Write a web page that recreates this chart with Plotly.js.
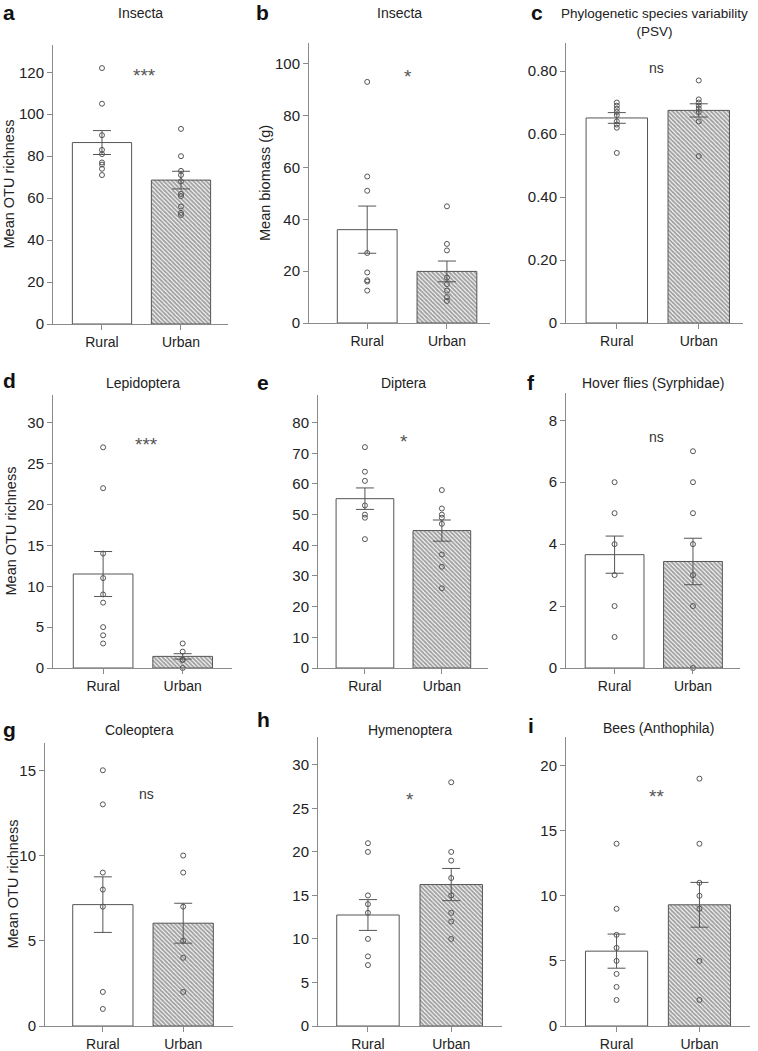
<!DOCTYPE html>
<html>
<head>
<meta charset="utf-8">
<script src="https://cdn.plot.ly/plotly-3.0.1.min.js"></script>
<style>body{margin:0;background:#fff;}</style>
</head>
<body>
<div id="chart" style="width:758px;height:1051px"></div>
<script>
var groups = ['Rural', 'Urban'];

var panelLetters = ['a', 'b', 'c', 'd', 'e', 'f', 'g', 'h', 'i'];
var panelTitles = ['Insecta', 'Insecta', 'Phylogenetic species variability<br>(PSV)', 'Lepidoptera',
    'Diptera', 'Hover flies (Syrphidae)', 'Coleoptera', 'Hymenoptera', 'Bees (Anthophila)'];
var yTitles = ['Mean OTU richness', 'Mean biomass (g)', '', 'Mean OTU richness', '', '', 'Mean OTU richness', '', ''];
var sigLabels = ['***', '*', 'ns', '***', '*', 'ns', 'ns', '*', '**'];
var psvTickVals = [0, 0.2, 0.4, 0.6, 0.8];
var psvTickText = ['0', '0.20', '0.40', '0.60', '0.80'];

// means and standard errors [Rural, Urban]
var insectaRichMean = [86.5, 68.6], insectaRichSE = [5.7, 4.2];
var biomassMean = [36.0, 19.9], biomassSE = [9.1, 4.0];
var psvMean = [0.651, 0.675], psvSE = [0.017, 0.021];
var lepiMean = [11.5, 1.42], lepiSE = [2.75, 0.33];
var dipMean = [55.2, 44.8], dipSE = [3.5, 3.45];
var hoverMean = [3.66, 3.44], hoverSE = [0.6, 0.75];
var coleoMean = [7.12, 6.03], coleoSE = [1.63, 1.17];
var hymMean = [12.75, 16.25], hymSE = [1.77, 1.85];
var beesMean = [5.75, 9.31], beesSE = [1.31, 1.72];

// individual sites
var insectaRichRural = [122, 105, 90, 83, 81, 77, 76, 74, 71];
var insectaRichUrban = [93, 80, 73, 71, 68, 62, 61, 56, 53, 52];
var biomassRural = [93, 56.5, 51, 27, 19.5, 16.5, 16, 12.5];
var biomassUrban = [45, 30.5, 28, 17.5, 15, 12.5, 10, 8.5];
var psvRural = [0.70, 0.69, 0.68, 0.67, 0.66, 0.64, 0.63, 0.62, 0.54];
var psvUrban = [0.77, 0.71, 0.70, 0.69, 0.68, 0.67, 0.64, 0.53];
var lepiRural = [27, 22, 14, 11, 9, 8, 5, 4, 3];
var lepiUrban = [3, 2, 1, 1, 0];
var dipRural = [72, 64, 61, 53, 50, 49, 42];
var dipUrban = [58, 52, 50, 49, 47, 37, 33, 26];
var hoverRural = [6, 5, 4, 3, 2, 1];
var hoverUrban = [7, 6, 5, 4, 3, 2, 0];
var coleoRural = [15, 13, 9, 8, 7, 2, 1];
var coleoUrban = [10, 9, 7, 5, 4, 2];
var hymRural = [21, 20, 15, 14, 13, 10, 8, 7];
var hymUrban = [28, 20, 19, 17, 15, 13, 12, 10];
var beesRural = [14, 9, 7, 6, 5, 4, 3, 2];
var beesUrban = [19, 14, 11, 10, 9, 5, 2];

var panels = [
    {mean: insectaRichMean, se: insectaRichSE, rural: insectaRichRural, urban: insectaRichUrban},
    {mean: biomassMean, se: biomassSE, rural: biomassRural, urban: biomassUrban},
    {mean: psvMean, se: psvSE, rural: psvRural, urban: psvUrban},
    {mean: lepiMean, se: lepiSE, rural: lepiRural, urban: lepiUrban},
    {mean: dipMean, se: dipSE, rural: dipRural, urban: dipUrban},
    {mean: hoverMean, se: hoverSE, rural: hoverRural, urban: hoverUrban},
    {mean: coleoMean, se: coleoSE, rural: coleoRural, urban: coleoUrban},
    {mean: hymMean, se: hymSE, rural: hymRural, urban: hymUrban},
    {mean: beesMean, se: beesSE, rural: beesRural, urban: beesUrban}
];

// panel boxes in pixels + axis setup
var geo = [
    {l: 53, t: 45, r: 228, b: 324, ymax: 133, dtick: 20, xr: [-0.62, 1.595], sig: [0.54, 118.5], titleY: 13, letter: [9, 13], ytx: 9},
    {l: 309, t: 43, r: 490, b: 323, ymax: 108, dtick: 20, xr: [-0.73, 1.54], sig: [0.51, 95], titleY: 13, letter: [262, 13], ytx: 265},
    {l: 566, t: 43, r: 743, b: 323, ymax: 0.889, dtick: 0.2, xr: [-0.62, 1.54], sig: [0.49, 0.81], titleY: 23, letter: [537, 13]},
    {l: 53, t: 395, r: 232, b: 668, ymax: 33.4, dtick: 5, xr: [-0.63, 1.62], sig: [0.55, 27.4], titleY: 383, letter: [9, 381], ytx: 10},
    {l: 318, t: 395, r: 488, b: 668, ymax: 89, dtick: 10, xr: [-0.61, 1.60], sig: [0.51, 74], titleY: 383, letter: [263, 382]},
    {l: 566, t: 393, r: 740, b: 668, ymax: 8.88, dtick: 2, xr: [-0.62, 1.60], sig: [0.53, 7.45], titleY: 383, letter: [531, 382]},
    {l: 45, t: 743, r: 233, b: 1026, ymax: 16.6, dtick: 5, xr: [-0.72, 1.62], sig: [0.54, 13.6], titleY: 730, letter: [9, 729], ytx: 12},
    {l: 318, t: 737, r: 502, b: 1026, ymax: 33.2, dtick: 5, xr: [-0.60, 1.61], sig: [0.50, 26.0], titleY: 730, letter: [263, 719]},
    {l: 566, t: 737, r: 750, b: 1026, ymax: 22.2, dtick: 5, xr: [-0.61, 1.61], sig: [0.48, 17.6], titleY: 728, letter: [531, 725]}
];

var W = 758, H = 1051;
function px(x) { return x / W; }
function py(y) { return 1 - y / H; }

var FONT = 'Liberation Sans, Arial, Helvetica, sans-serif';
var AXIS_COL = '#8a8a8a';
var INK = '#555555';

var allData = [];
var layout = {
    width: W,
    height: H,
    margin: {l: 0, r: 0, t: 0, b: 0},
    paper_bgcolor: '#fff',
    plot_bgcolor: 'rgba(0,0,0,0)',
    showlegend: false,
    font: {family: FONT, color: '#222', size: 14},
    annotations: []
};

panels.forEach(function (p, i) {
    var k = i + 1;
    var sfx = k === 1 ? '' : String(k);
    var g = geo[i];

    //bars with error bars
    allData.push({
        type: 'bar',
        x: groups,
        y: p.mean,
        width: 0.75,
        xaxis: 'x' + sfx,
        yaxis: 'y' + sfx,
        marker: {
            color: ['#ffffff', '#ffffff'],
            line: {color: INK, width: 1},
            pattern: {shape: ['', '\\'], size: 3, solidity: 0.65, fgcolor: '#3c3c3c', bgcolor: '#fff', fillmode: 'overlay'}
        },
        error_y: {type: 'data', array: p.se, visible: true, color: INK, thickness: 1, width: 9},
        hoverinfo: 'none'
    });

    //site points
    var xs = [], ys = [];
    p.rural.forEach(function (v) { xs.push(groups[0]); ys.push(v); });
    p.urban.forEach(function (v) { xs.push(groups[1]); ys.push(v); });
    allData.push({
        type: 'scatter',
        mode: 'markers',
        x: xs,
        y: ys,
        xaxis: 'x' + sfx,
        yaxis: 'y' + sfx,
        marker: {symbol: 'circle-open', size: 5, color: '#555', line: {width: 1, color: '#555'}},
        cliponaxis: false,
        hoverinfo: 'none'
    });

    layout['xaxis' + sfx] = {
        domain: [px(g.l), px(g.r)],
        anchor: 'y' + sfx,
        type: 'category',
        range: g.xr,
        showline: true,
        linecolor: AXIS_COL,
        linewidth: 1,
        ticks: 'outside',
        ticklen: 5,
        tickcolor: AXIS_COL,
        tickfont: {size: 14, color: '#222'},
        showgrid: false,
        zeroline: false,
        fixedrange: true
    };

    var yax = {
        domain: [py(g.b), py(g.t)],
        anchor: 'x' + sfx,
        range: [0, g.ymax],
        dtick: g.dtick,
        tick0: 0,
        showline: true,
        linecolor: AXIS_COL,
        linewidth: 1,
        ticks: 'outside',
        ticklen: 5,
        tickcolor: AXIS_COL,
        tickfont: {size: 15, color: '#222'},
        showgrid: false,
        zeroline: false,
        fixedrange: true
    };
    if (k === 3) {
        yax.tickmode = 'array';
        yax.tickvals = psvTickVals;
        yax.ticktext = psvTickText;
    }
    layout['yaxis' + sfx] = yax;

    //panel title
    layout.annotations.push({
        text: panelTitles[i],
        xref: 'paper', yref: 'paper',
        x: px((g.l + g.r) / 2), y: py(g.titleY),
        xanchor: 'center', yanchor: 'middle',
        showarrow: false,
        font: {size: k === 3 ? 13.5 : 14, color: '#222'}
    });

    //panel letter
    layout.annotations.push({
        text: '<b>' + panelLetters[i] + '</b>',
        xref: 'paper', yref: 'paper',
        x: px(g.letter[0]), y: py(g.letter[1]),
        xanchor: 'center', yanchor: 'middle',
        showarrow: false,
        font: {size: 21, color: '#111'}
    });

    //significance
    var isNs = sigLabels[i] === 'ns';
    layout.annotations.push({
        text: sigLabels[i],
        xref: 'x' + sfx, yref: 'y' + sfx,
        x: g.sig[0], y: g.sig[1],
        xanchor: 'center', yanchor: 'middle',
        showarrow: false,
        font: {size: isNs ? 14 : 19, color: isNs ? '#333' : '#555'}
    });

    //y axis title
    if (yTitles[i]) {
        layout.annotations.push({
            text: yTitles[i],
            xref: 'paper', yref: 'paper',
            x: px(g.ytx), y: py((g.t + g.b) / 2),
            xanchor: 'center', yanchor: 'middle',
            textangle: -90,
            showarrow: false,
            font: {size: 14.5, color: '#222'}
        });
    }
});

Plotly.newPlot('chart', allData, layout, {displayModeBar: false, staticPlot: true});
</script>
</body>
</html>
